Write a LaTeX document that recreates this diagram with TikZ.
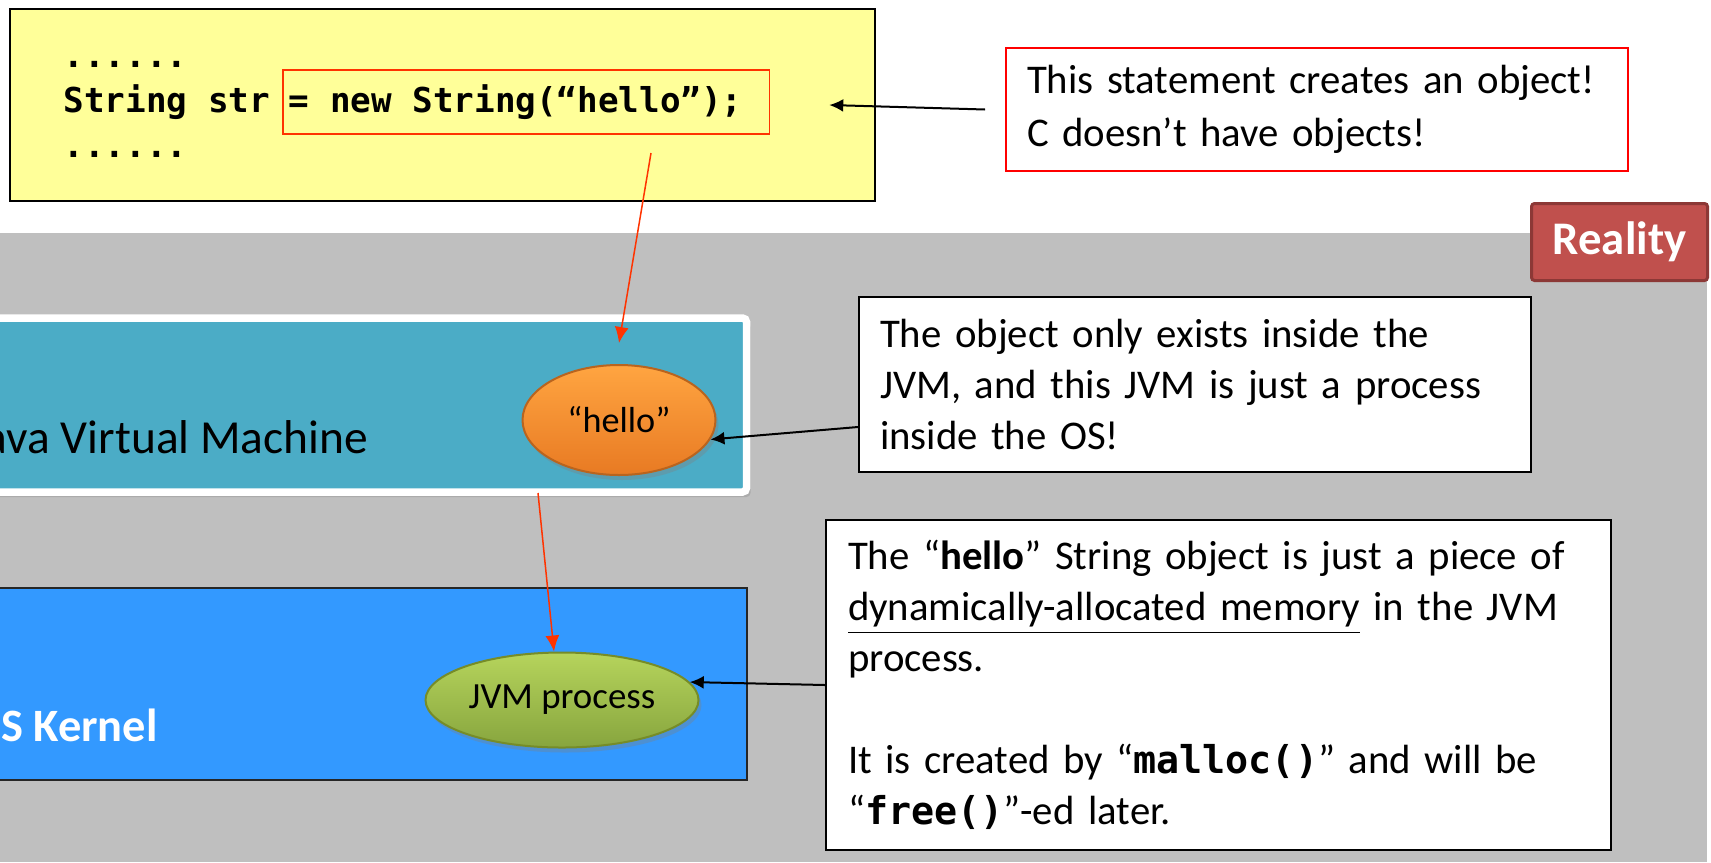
\documentclass[tikz,border=0pt]{standalone}
\usepackage{fontspec}
\setmainfont{Carlito}
\newfontfamily\codefont{DejaVu Sans Mono}
\usepackage{tikz}
\usepackage{xcolor}
\usetikzlibrary{positioning,shapes.geometric,arrows.meta,shadows}
\definecolor{codeYellow}{RGB}{255,255,153}
\definecolor{arrowRed}{RGB}{255,51,0}
\definecolor{realGray}{RGB}{191,191,191}
\definecolor{jvmTeal}{RGB}{75,172,198}
\definecolor{kernelBlue}{RGB}{51,153,255}
\definecolor{realityRed}{RGB}{192,80,77}
\definecolor{realityEdge}{RGB}{140,56,54}
\definecolor{helloTop}{RGB}{255,165,65}
\definecolor{helloBottom}{RGB}{232,122,35}
\definecolor{helloEdge}{RGB}{185,100,30}
\definecolor{procTop}{RGB}{182,212,92}
\definecolor{procBottom}{RGB}{135,165,62}
\definecolor{procEdge}{RGB}{118,140,40}
\newcommand{\noteCode}{\codefont\bfseries\fontsize{10.9pt}{14.5pt}\selectfont}
\tikzstyle{codeBox} = [draw, line width=0.25mm, fill=codeYellow, minimum width=86.5mm, minimum height=19.2mm]
\tikzstyle{codeText} = [inner sep=0pt, anchor=base west, font={\codefont\bfseries\fontsize{9.75pt}{12pt}\selectfont}]
\tikzstyle{stmtBox} = [draw=arrowRed, line width=0.15mm, inner xsep=0.6mm, inner ysep=0pt, minimum height=6.4mm, font={\codefont\bfseries\fontsize{9.75pt}{12pt}\selectfont}]
\tikzstyle{noteBox} = [draw, line width=0.2mm, fill=white, inner xsep=2.1mm, align=left, font=\fontsize{11.6pt}{14.5pt}\selectfont]
\tikzstyle{layerBox} = [rectangle, minimum width=76.7mm]
\tikzstyle{objEllipse} = [ellipse, inner sep=0pt, line width=0.2mm, drop shadow={opacity=0.35, shadow xshift=0.3mm, shadow yshift=-0.5mm}]
\tikzstyle{redArrow} = [draw=arrowRed, line width=0.15mm, -{Latex[length=1.6mm, width=1.4mm]}]
\tikzstyle{blackArrow} = [line width=0.2mm, -{Latex[length=1.4mm, width=1.3mm]}]

\begin{document}
\begin{tikzpicture}[x=0.1mm, y=-0.1mm]
            \useasboundingbox (0,0) rectangle (1711,862);
            \clip (0,0) rectangle (1711,862);
            \fill[realGray] (0,233) rectangle (1707,862);
            \node (code) at (442.5,105) [codeBox] {};
            \node (decl)[codeText] at (63,112) {String str};
            \node (dotsTop)[codeText, above=4.5mm of decl.base west, anchor=base west] {......};
            \node (dotsBottom)[codeText, below=4.5mm of decl.base west, anchor=base west] {......};
            \node (stmt)[stmtBox, anchor=west] at (282,102) {= new String(“hello”);\kern2.1mm};
            \node (note1)[noteBox, draw=red, text width=58mm, minimum height=12.3mm] at (1317,109.5) {This statement creates an object!\\[0.7pt]C doesn’t have objects!};
            \node (reality)[draw=realityEdge, line width=0.3mm, fill=realityRed, text=white, rounded corners=0.3mm, minimum width=17.6mm, minimum height=7.7mm, font=\bfseries\fontsize{13.3pt}{15pt}\selectfont] at (1619.5,242) {Reality};
            \node (jvm)[layerBox, draw=white, line width=0.75mm, fill=jvmTeal, rounded corners=0.4mm, minimum width=76.65mm, minimum height=17.4mm, drop shadow={opacity=0.3, shadow xshift=0.4mm, shadow yshift=-0.5mm}] at (363.25,405) {};
            \node (jvmLabel)[anchor=base west, inner sep=0pt, font=\fontsize{13.5pt}{15pt}\selectfont] at (-31,453) {Java Virtual Machine};
            \node (kernel)[layerBox, draw=black!85, line width=0.15mm, fill=kernelBlue, minimum height=19.2mm] at (363.5,684) {};
            \node (kernelLabel)[anchor=base west, inner sep=0pt, text=white, font=\bfseries\fontsize{13.2pt}{15pt}\selectfont] at (-31,741) {OS Kernel};
            \node (hello)[objEllipse, draw=helloEdge, top color=helloTop, bottom color=helloBottom, minimum width=19.3mm, minimum height=11mm, font=\fontsize{10.3pt}{12pt}\selectfont] at (619,420) {“hello”};
            \node (proc)[objEllipse, draw=procEdge, top color=procTop, bottom color=procBottom, minimum width=27.3mm, minimum height=9.5mm, font=\fontsize{10.5pt}{12pt}\selectfont] at (562,700) {JVM process};
            \node (note2)[noteBox, text width=63mm, minimum height=17.5mm] at (1195,384.5) {The object only exists inside the\\JVM, and this JVM is just a process\\inside the OS!};
            \node (note3)[noteBox, inner xsep=2.2mm, text width=74.1mm, minimum height=33mm] at (1218.5,685) {The “\textbf{hello}” String object is just a piece of\\\underline{dynamically-allocated memory} in the JVM\\process.\\[14.5pt]It is created by “{\noteCode malloc()}” and will be\\“{\noteCode free()}”-ed later.};
            \coordinate (stmtTail) at (651,153);
            \coordinate (jvmTail) at (538,493);
            \draw[redArrow](stmtTail) -- ([yshift=2.1mm]hello.north);
            \draw[redArrow](jvmTail) -- ([xshift=-0.8mm]proc.north);
            \draw[blackArrow]([xshift=-2mm]note1.west) -- ([xshift=-4.7mm]code.east);
            \draw[blackArrow]([yshift=-4.25mm]note2.west) -- (hello.-12);
            \draw[blackArrow](note3.west) -- (proc.8);
        \end{tikzpicture}
\end{document}
